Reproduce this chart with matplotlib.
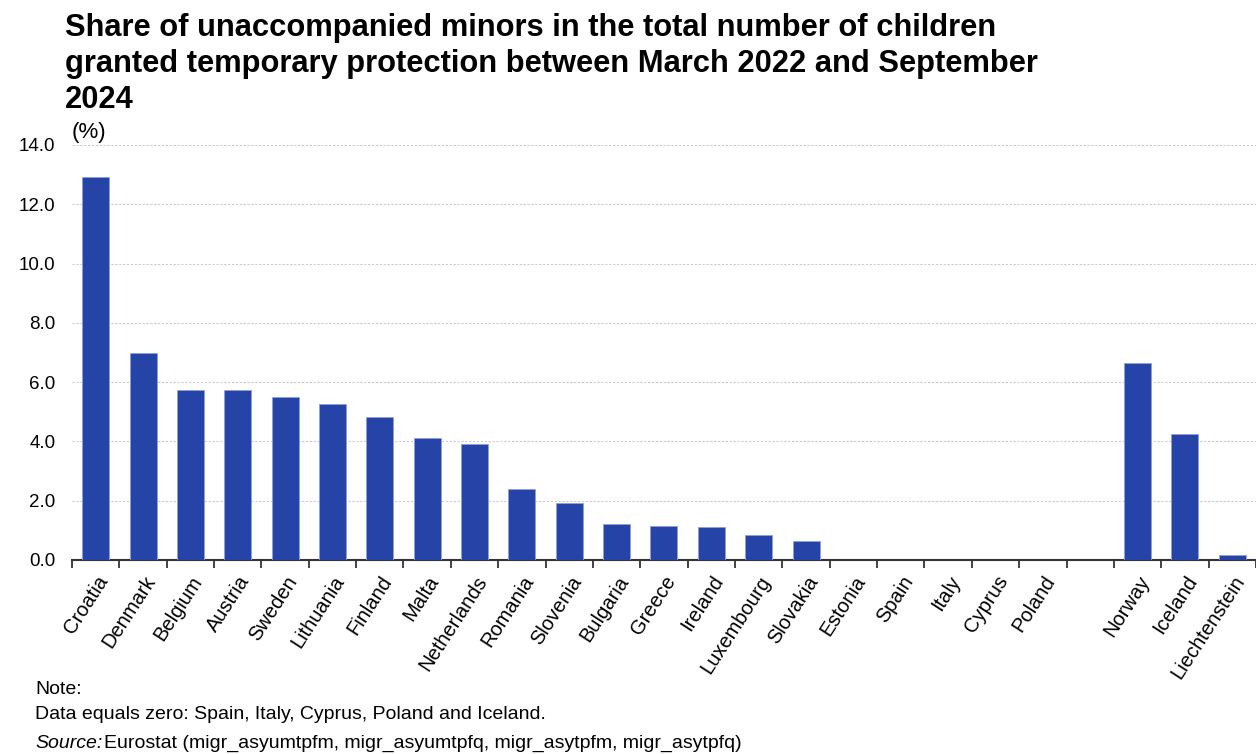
import numpy as np
import matplotlib.pyplot as plt
from matplotlib.ticker import FixedLocator, FormatStrFormatter

plt.rcParams['font.family'] = ['Liberation Sans', 'DejaVu Sans']

countries = ["Croatia", "Denmark", "Belgium", "Austria", "Sweden", "Lithuania",
             "Finland", "Malta", "Netherlands", "Romania", "Slovenia", "Bulgaria",
             "Greece", "Ireland", "Luxembourg", "Slovakia", "Estonia", "Spain",
             "Italy", "Cyprus", "Poland"]
shares = [12.91, 6.99, 5.74, 5.74, 5.51, 5.27, 4.81, 4.12, 3.91, 2.41, 1.91,
          1.23, 1.16, 1.10, 0.84, 0.64, 0.0, 0.0, 0.0, 0.0, 0.0]
efta_countries = ["Norway", "Iceland", "Liechtenstein"]
efta_shares = [6.66, 4.25, 0.18]

labels = countries + [""] + efta_countries
values = shares + [np.nan] + efta_shares
x = np.arange(len(labels))

fig = plt.figure(figsize=(12.56, 7.54), dpi=100)
ax = fig.add_axes([0.0573, 0.2573, 0.9427, 0.5504])

ax.bar(x, values, width=0.57, color="#2644a7", edgecolor="#8fa0d8", linewidth=0.6, zorder=3)

ax.set_xlim(-0.5, len(labels) - 0.5)
ax.set_ylim(0, 14)
ax.set_yticks(np.arange(0, 14.1, 2))
ax.yaxis.set_major_formatter(FormatStrFormatter("%.1f"))
ax.grid(axis="y", color="#cccccc", linestyle=(0, (2, 1.5)), linewidth=0.8, zorder=0)

# category labels at the bar centres, tick marks on the slot boundaries
ax.set_xticks(x)
ax.set_xticklabels(labels, rotation=57, ha="right", rotation_mode="anchor", fontsize=14.5)
ax.tick_params(axis="x", which="major", length=0, pad=9)
ax.xaxis.set_minor_locator(FixedLocator(np.arange(-0.5, len(labels), 1.0)))
ax.tick_params(axis="x", which="minor", length=6, width=1.3, color="#333333", direction="out")
ax.tick_params(axis="y", length=0, labelsize=13.5, pad=12)

for side in ["top", "right", "left"]:
    ax.spines[side].set_visible(False)
ax.spines["bottom"].set_color("#333333")
ax.spines["bottom"].set_linewidth(1.5)

fig.text(0.052, 0.983, "Share of unaccompanied minors in the total number of children\n"
         "granted temporary protection between March 2022 and September\n2024",
         fontsize=22.2, fontweight="bold", va="top", ha="left", linespacing=1.27)
fig.text(0.057, 0.81, "(%)", fontsize=16, va="bottom", ha="left")

fig.text(0.028, 0.074, "Note:", fontsize=14, va="bottom")
fig.text(0.028, 0.041, "Data equals zero: Spain, Italy, Cyprus, Poland and Iceland.", fontsize=14, va="bottom")
fig.text(0.028, 0.003, "Source:", fontsize=14, style="italic", va="bottom")
fig.text(0.083, 0.003, "Eurostat (migr_asyumtpfm, migr_asyumtpfq, migr_asytpfm, migr_asytpfq)",
         fontsize=14, va="bottom")

fig.savefig("out.png", dpi=100)
